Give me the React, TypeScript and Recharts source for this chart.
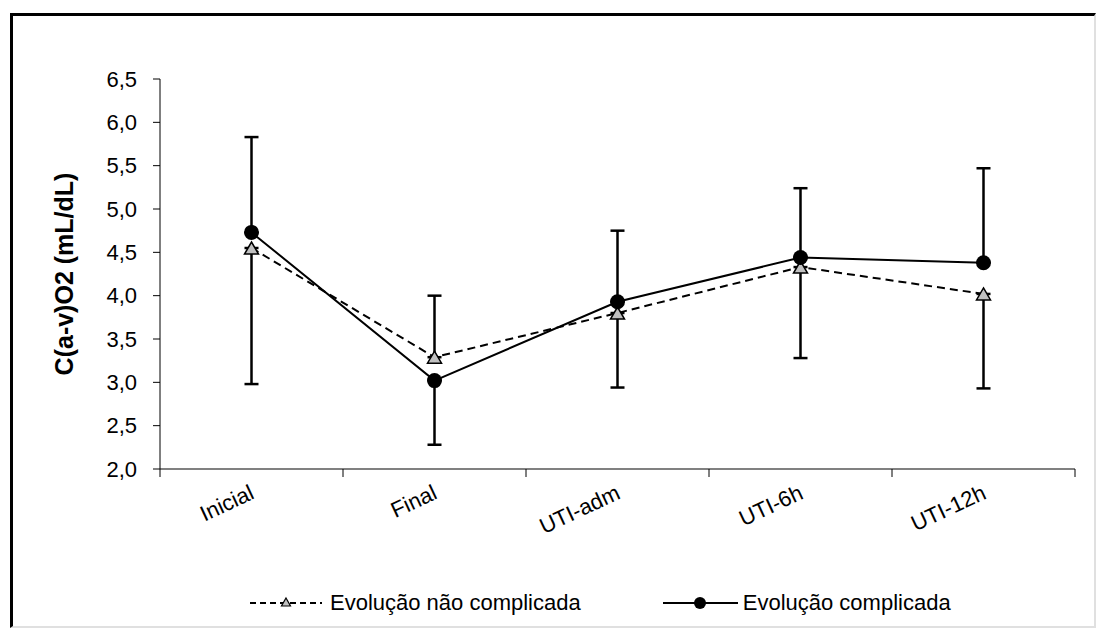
import React from "react";
import { ErrorBar, Legend, Line, LineChart, XAxis, YAxis } from "recharts";

const categories = ["Inicial", "Final", "UTI-adm", "UTI-6h", "UTI-12h"];
const naoComplicada = [4.55, 3.29, 3.8, 4.33, 4.02];
const complicada = [4.73, 3.02, 3.93, 4.44, 4.38];
// error bar lengths (below / above the mean)
const naoDown = [1.57, 0, 0.86, 1.05, 1.09];
const naoUp = [0, 0.71, 0, 0, 0];
const compDown = [0, 0.74, 0, 0, 0];
const compUp = [1.1, 0, 0.82, 0.8, 1.09];
const yTicks = [2, 2.5, 3, 3.5, 4, 4.5, 5, 5.5, 6, 6.5];

const data = categories.map((name, i) => ({
  name,
  nao: naoComplicada[i],
  comp: complicada[i],
  naoErr: [naoDown[i], naoUp[i]],
  compErr: [compDown[i], compUp[i]],
}));

const FONT = "'Liberation Sans', Arial, sans-serif";

const Triangle = (props: any) => {
  const { cx, cy } = props;
  if (cx == null || cy == null) return null;
  return (
    <path
      d={`M${cx},${cy - 6} L${cx + 7},${cy + 6} L${cx - 7},${cy + 6} Z`}
      fill="#c0c0c0"
      stroke="#000"
      strokeWidth={1.5}
    />
  );
};

// category label, plus the tick marks between categories (Excel style)
const XTick = (props: any) => {
  const { x, y, payload, index, width, visibleTicksCount } = props;
  const band = width / visibleTicksCount;
  const left = x - band / 2;
  const tx = x + 4;
  const ty = y + 29;
  return (
    <g>
      <line x1={left} y1={y} x2={left} y2={y + 8} stroke="#000" strokeWidth={1} />
      {index === visibleTicksCount - 1 && (
        <line x1={left + band} y1={y} x2={left + band} y2={y + 8} stroke="#000" strokeWidth={1} />
      )}
      <text
        x={tx}
        y={ty}
        textAnchor="end"
        transform={`rotate(-25, ${tx}, ${ty})`}
        fontFamily={FONT}
        fontSize={22}
        fill="#000"
      >
        {payload.value}
      </text>
    </g>
  );
};

const LegendBox = () => (
  <div
    style={{
      height: 94,
      paddingTop: 61,
      paddingLeft: 237,
      boxSizing: "border-box",
      display: "flex",
      alignItems: "flex-start",
      fontFamily: FONT,
      fontSize: 22,
      lineHeight: "24px",
      color: "#000",
    }}
  >
    <svg width={72} height={24}>
      <line x1={0} y1={12} x2={72} y2={12} stroke="#000" strokeWidth={2} strokeDasharray="6 4" />
      <path d="M36,7 L40.5,15 L31.5,15 Z" fill="#c0c0c0" stroke="#000" strokeWidth={1.2} />
    </svg>
    <span style={{ marginLeft: 8 }}>Evolução não complicada</span>
    <svg width={75} height={24} style={{ marginLeft: 82 }}>
      <line x1={0} y1={12} x2={75} y2={12} stroke="#000" strokeWidth={2} />
      <circle cx={37} cy={12} r={6} fill="#000" />
    </svg>
    <span style={{ marginLeft: 5 }}>Evolução complicada</span>
  </div>
);

export default function App() {
  return (
    <div
      style={{
        position: "absolute",
        left: 10,
        top: 13,
        width: 1081,
        height: 610,
        borderTop: "3px solid #000",
        borderLeft: "3px solid #000",
        borderRight: "2px solid #e0e0e0",
        borderBottom: "2px solid #e0e0e0",
        background: "#fff",
        overflow: "hidden",
      }}
    >
      <LineChart
        width={1080}
        height={608}
        data={data}
        margin={{ top: 63, right: 18, left: 0, bottom: 0 }}
      >
        <XAxis
          dataKey="name"
          scale="band"
          height={61}
          stroke="#808080"
          strokeWidth={2}
          tickLine={false}
          tickSize={0}
          tickMargin={0}
          tick={<XTick />}
          interval={0}
        />
        <YAxis
          width={147}
          domain={[2, 6.5]}
          ticks={yTicks}
          interval={0}
          tickSize={7}
          tickMargin={16}
          stroke="#000"
          tickFormatter={(v: number) => v.toFixed(1).replace(".", ",")}
          tick={{ fontFamily: FONT, fontSize: 22, fill: "#000" }}
          label={{
            content: (p: any) => {
              const vb = p.viewBox;
              const lx = 60;
              const ly = vb.y + vb.height / 2;
              return (
                <text
                  x={lx}
                  y={ly}
                  textAnchor="middle"
                  transform={`rotate(-90, ${lx}, ${ly})`}
                  fontFamily={FONT}
                  fontWeight="bold"
                  fontSize={25}
                  fill="#000"
                >
                  C(a-v)O2 (mL/dL)
                </text>
              );
            },
          }}
        />
        <Legend verticalAlign="bottom" content={<LegendBox />} wrapperStyle={{ left: 0, width: 1080 }} />
        <Line
          dataKey="nao"
          stroke="#000"
          strokeWidth={2}
          strokeDasharray="8 5"
          dot={<Triangle />}
          activeDot={false}
          isAnimationActive={false}
        >
          <ErrorBar dataKey="naoErr" width={7} stroke="#000" strokeWidth={2.5} direction="y" />
        </Line>
        <Line
          dataKey="comp"
          stroke="#000"
          strokeWidth={2}
          dot={{ r: 7.5, fill: "#000", stroke: "#000", strokeWidth: 0 }}
          activeDot={false}
          isAnimationActive={false}
        >
          <ErrorBar dataKey="compErr" width={7} stroke="#000" strokeWidth={2.5} direction="y" />
        </Line>
      </LineChart>
    </div>
  );
}
